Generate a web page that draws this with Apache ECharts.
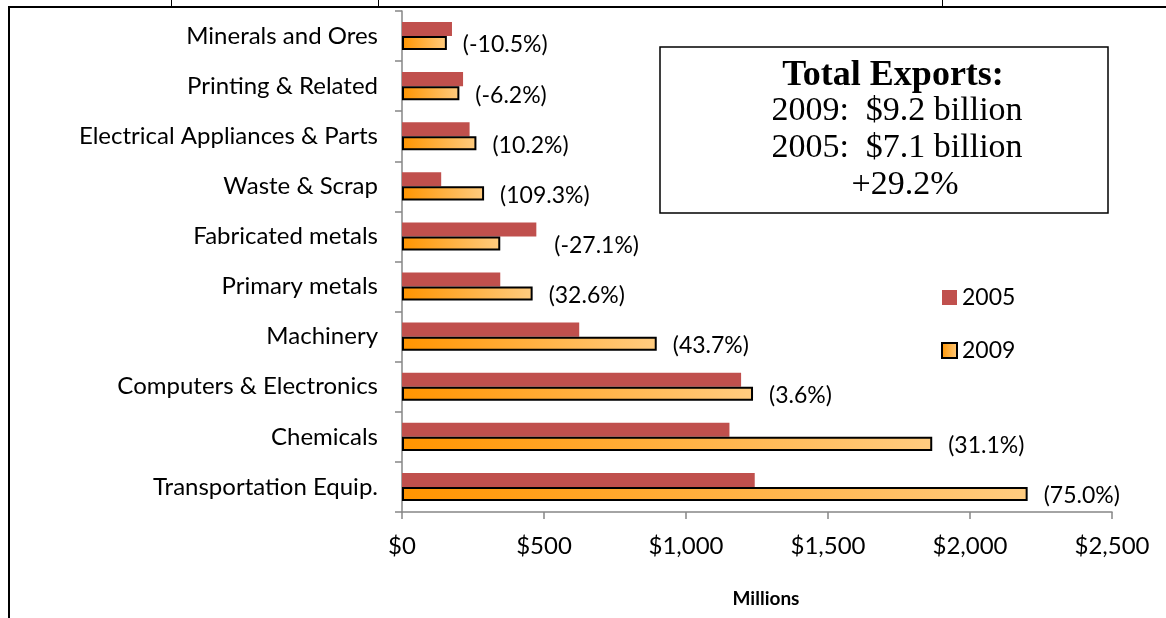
<!DOCTYPE html>
<html>
<head>
<meta charset="utf-8">
<script src="https://cdn.jsdelivr.net/npm/echarts@6/dist/echarts.min.js"></script>
<style>
html,body{margin:0;padding:0;background:#fff;}
#chart{width:1166px;height:618px;}
</style>
</head>
<body>
<div id="chart"></div>
<script>
const categories = ['Minerals and Ores','Printing & Related','Electrical Appliances & Parts','Waste & Scrap','Fabricated metals','Primary metals','Machinery','Computers & Electronics','Chemicals','Transportation Equip.'];
const values2005 = [176, 215, 238, 138, 473, 346, 624, 1194, 1153, 1242];
const values2009 = [158, 202, 262, 289, 346, 460, 897, 1236, 1867, 2203];
const pctLabels = ['(-10.5%)','(-6.2%)','(10.2%)','(109.3%)','(-27.1%)','(32.6%)','(43.7%)','(3.6%)','(31.1%)','(75.0%)'];
const xTickLabels = ['$0','$500','$1,000','$1,500','$2,000','$2,500'];
const boxLines = ['2009:  $9.2 billion','2005:  $7.1 billion','+29.2%'];

const chart = echarts.init(document.getElementById('chart'));
const FONT = 'Lato';
const orangeGrad = new echarts.graphic.LinearGradient(0,0,1,0,[
  {offset:0,color:'#FF9400'},{offset:1,color:'#FFCC80'}
]);

const data2009 = values2009.map((v,i)=>{
  const item = {value:v};
  if (categories[i]==='Fabricated metals') item.label = {offset:[38,2]};
  return item;
});

chart.setOption({
  animation:false,
  backgroundColor:'#fff',
  grid:{left:402,right:54,top:11,bottom:106,containLabel:false},
  legend:{
    orient:'vertical',left:936,top:281,itemWidth:15,itemHeight:15,itemGap:30,
    icon:'rect',
    textStyle:{fontFamily:FONT,fontSize:23,color:'#000'},
    data:['2005','2009']
  },
  xAxis:{
    type:'value',min:0,max:2500,interval:500,
    axisLine:{show:true,lineStyle:{color:'#868686',width:1.5}},
    axisTick:{show:true,length:7,lineStyle:{color:'#868686',width:1.5}},
    splitLine:{show:false},
    axisLabel:{margin:22,fontFamily:FONT,fontSize:24,color:'#000',
      formatter:(v)=>xTickLabels[Math.round(v/500)]},
    name:'Millions',nameLocation:'middle',nameGap:77,
    nameTextStyle:{fontFamily:FONT,fontSize:19,fontWeight:'bold',color:'#000',padding:[0,0,0,18]}
  },
  yAxis:{
    type:'category',data:categories,inverse:true,
    axisLine:{show:true,lineStyle:{color:'#868686',width:1.5}},
    axisTick:{show:true,length:7,lineStyle:{color:'#868686',width:1.5}},
    axisLabel:{margin:24,fontFamily:FONT,fontSize:24,color:'#000'}
  },
  series:[
    {name:'2005',type:'bar',data:values2005,barGap:'0%',barCategoryGap:'44%',
     itemStyle:{color:'#C0504D'}},
    {name:'2009',type:'bar',data:data2009,barGap:'0%',barCategoryGap:'44%',
     itemStyle:{color:orangeGrad,borderColor:'#000',borderWidth:2},
     label:{show:true,position:'right',distance:16,offset:[0,2],fontFamily:FONT,fontSize:23,color:'#000',
       formatter:(p)=>pctLabels[p.dataIndex]}}
  ],
  graphic:[
    {type:'line',shape:{x1:9,y1:7,x2:1166,y2:7},style:{stroke:'#000',lineWidth:2}},
    {type:'line',shape:{x1:9,y1:6,x2:9,y2:618},style:{stroke:'#000',lineWidth:2}},
    {type:'line',shape:{x1:171.5,y1:0,x2:171.5,y2:7},style:{stroke:'#000',lineWidth:1}},
    {type:'line',shape:{x1:378.5,y1:0,x2:378.5,y2:7},style:{stroke:'#000',lineWidth:1}},
    {type:'line',shape:{x1:942.5,y1:0,x2:942.5,y2:7},style:{stroke:'#000',lineWidth:1}},
    {type:'rect',shape:{x:660,y:47,width:448,height:166},style:{fill:'#fff',stroke:'#000',lineWidth:1.5}},
    {type:'text',x:893,y:76,style:{text:'Total Exports:',font:'bold 36px "Liberation Serif"',fill:'#000',textAlign:'center',textVerticalAlign:'middle'}},
    {type:'text',x:897,y:111,style:{text:boxLines[0],font:'34px "Liberation Serif"',fill:'#000',textAlign:'center',textVerticalAlign:'middle'}},
    {type:'text',x:897,y:148,style:{text:boxLines[1],font:'34px "Liberation Serif"',fill:'#000',textAlign:'center',textVerticalAlign:'middle'}},
    {type:'text',x:905,y:185,style:{text:boxLines[2],font:'34px "Liberation Serif"',fill:'#000',textAlign:'center',textVerticalAlign:'middle'}}
  ]
});
</script>
</body>
</html>
